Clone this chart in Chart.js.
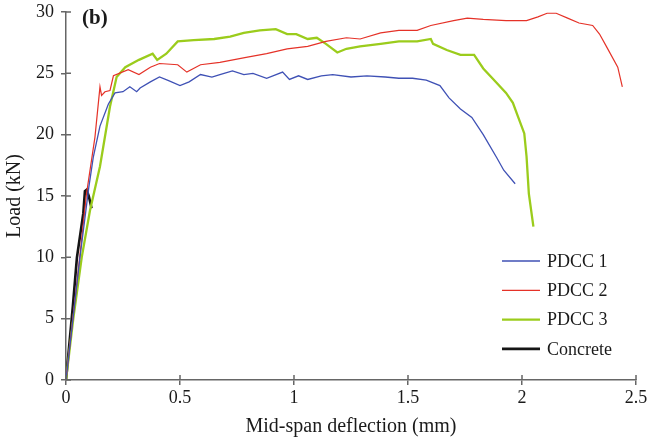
<!DOCTYPE html>
<html>
<head>
<meta charset="utf-8">
<script src="https://cdn.jsdelivr.net/npm/chart.js@4/dist/chart.umd.min.js"></script>
<style>
  html, body { margin: 0; padding: 0; background: #fff; }
  #wrap { width: 649px; height: 439px; }
</style>
</head>
<body>
<div id="wrap"><canvas id="loadChart"></canvas></div>
<script>
// deflection (mm) / load (kN)
const pdcc1X = [0, 0.06, 0.1, 0.12, 0.149, 0.186, 0.215, 0.25, 0.28, 0.31, 0.325, 0.37, 0.41, 0.45, 0.5, 0.54, 0.59, 0.64, 0.675, 0.73, 0.78, 0.82, 0.88, 0.95, 0.98, 1.02, 1.06, 1.12, 1.17, 1.25, 1.32, 1.4, 1.46, 1.52, 1.58, 1.64, 1.68, 1.73, 1.78, 1.83, 1.89, 1.92, 1.97]
const pdcc1Y = [0, 9.8, 15.7, 18.2, 20.7, 22.5, 23.4, 23.5, 23.9, 23.5, 23.8, 24.3, 24.7, 24.4, 24.0, 24.3, 24.9, 24.7, 24.9, 25.2, 24.9, 25.0, 24.6, 25.1, 24.5, 24.8, 24.5, 24.8, 24.9, 24.7, 24.8, 24.7, 24.6, 24.6, 24.45, 24.0, 23.0, 22.1, 21.4, 20.0, 18.1, 17.1, 16.0]

const pdcc2X = [0, 0.06, 0.09, 0.127, 0.149, 0.156, 0.171, 0.193, 0.208, 0.273, 0.32, 0.37, 0.41, 0.49, 0.53, 0.59, 0.675, 0.79, 0.88, 0.97, 1.06, 1.14, 1.23, 1.29, 1.38, 1.46, 1.54, 1.6, 1.7, 1.76, 1.83, 1.93, 2.02, 2.07, 2.11, 2.15, 2.2, 2.25, 2.31, 2.34, 2.37, 2.42, 2.44]
const pdcc2Y = [0, 10.0, 15.2, 19.8, 23.9, 23.2, 23.5, 23.6, 24.8, 25.3, 24.9, 25.5, 25.8, 25.7, 25.1, 25.7, 25.9, 26.3, 26.6, 27.0, 27.2, 27.6, 27.9, 27.8, 28.3, 28.5, 28.5, 28.9, 29.3, 29.5, 29.4, 29.3, 29.3, 29.6, 29.9, 29.9, 29.5, 29.1, 28.9, 28.2, 27.2, 25.5, 23.9]

const pdcc3X = [0, 0.032, 0.069, 0.105, 0.149, 0.193, 0.222, 0.26, 0.32, 0.38, 0.40, 0.44, 0.49, 0.56, 0.65, 0.72, 0.78, 0.85, 0.92, 0.97, 1.01, 1.06, 1.10, 1.14, 1.19, 1.23, 1.29, 1.38, 1.46, 1.54, 1.60, 1.61, 1.67, 1.73, 1.79, 1.83, 1.87, 1.93, 1.96, 1.98, 2.01, 2.02, 2.03, 2.05]
const pdcc3Y = [0, 5.0, 10.0, 13.8, 17.4, 22.3, 24.7, 25.5, 26.1, 26.6, 26.1, 26.6, 27.6, 27.7, 27.8, 28.0, 28.3, 28.5, 28.6, 28.2, 28.2, 27.8, 27.9, 27.4, 26.7, 27.0, 27.2, 27.4, 27.6, 27.6, 27.8, 27.4, 26.9, 26.5, 26.5, 25.4, 24.6, 23.4, 22.6, 21.6, 20.1, 18.2, 15.2, 12.5]

const concreteX = [0, 0.03, 0.048, 0.076, 0.083, 0.09, 0.1, 0.112]
const concreteY = [0, 6.0, 10.0, 13.6, 15.4, 15.5, 15.0, 14.0]

const seriesNames = ['PDCC 1', 'PDCC 2', 'PDCC 3', 'Concrete']
const xTicks = [0, 0.5, 1, 1.5, 2, 2.5]
const yTicks = [0, 5, 10, 15, 20, 25, 30]

const serif = '"Liberation Serif", "DejaVu Serif", serif'
const axisColour = '#666'
const textColour = '#1a1a1a'

function pairs(xs, ys) {
  const out = []
  for (let i = 0; i < xs.length; i++) {
    out.push({x: xs[i], y: ys[i]})
  }
  return out
}

// ticks cross the axis line, so add the inner half by hand
const innerTicks = {
  id: 'innerTicks',
  afterDraw(chart) {
    const ctx = chart.ctx
    const area = chart.chartArea
    const xs = chart.scales.x
    const ys = chart.scales.y
    ctx.save()
    ctx.strokeStyle = axisColour
    ctx.lineWidth = 1.5
    ctx.beginPath()
    xTicks.forEach(v => {
      const px = xs.getPixelForValue(v)
      ctx.moveTo(px, area.bottom)
      ctx.lineTo(px, area.bottom - 5)
    })
    yTicks.forEach(v => {
      const py = ys.getPixelForValue(v)
      ctx.moveTo(area.left, py)
      ctx.lineTo(area.left + 5, py)
    })
    ctx.stroke()
    ctx.restore()
  }
}

// legend sits inside the plot, bottom right
const insideLegend = {
  id: 'insideLegend',
  afterDraw(chart) {
    const ctx = chart.ctx
    const area = chart.chartArea
    ctx.save()
    ctx.font = '18px ' + serif
    ctx.textBaseline = 'middle'
    ctx.textAlign = 'left'
    chart.data.datasets.forEach((ds, i) => {
      const y = area.bottom - 119 + i * 29.3
      const x0 = area.left + 436
      ctx.strokeStyle = ds.borderColor
      ctx.lineWidth = ds.borderWidth
      ctx.beginPath()
      ctx.moveTo(x0, y)
      ctx.lineTo(x0 + 38, y)
      ctx.stroke()
      ctx.fillStyle = textColour
      ctx.fillText(ds.label, x0 + 45, y + 1)
    })
    ctx.font = 'bold 21px ' + serif
    ctx.fillText('(b)', area.left + 16, area.top + 7)
    ctx.restore()
  }
}

const chartDatasets = [
  {label: seriesNames[0], data: pairs(pdcc1X, pdcc1Y), borderColor: '#3f51b5', borderWidth: 1.3},
  {label: seriesNames[1], data: pairs(pdcc2X, pdcc2Y), borderColor: '#e53228', borderWidth: 1.2},
  {label: seriesNames[2], data: pairs(pdcc3X, pdcc3Y), borderColor: '#9bcc1c', borderWidth: 2.3},
  {label: seriesNames[3], data: pairs(concreteX, concreteY), borderColor: '#151515', borderWidth: 2.6}
]
chartDatasets.forEach(ds => {
  ds.pointRadius = 0
  ds.fill = false
  ds.tension = 0
})

const loadChart = new Chart(document.getElementById('loadChart').getContext('2d'), {
  type: 'line',
  data: {datasets: chartDatasets},
  options: {
    responsive: true,
    maintainAspectRatio: false,
    animation: false,
    layout: {padding: {top: 12, right: 13, left: 0, bottom: 0}},
    plugins: {legend: {display: false}, tooltip: {enabled: false}},
    scales: {
      x: {
        type: 'linear', min: 0, max: 2.5,
        afterFit: s => { s.height = 59; s.paddingLeft = 0; s.paddingRight = 0 },
        afterBuildTicks: s => { s.ticks = xTicks.map(v => ({value: v})) },
        border: {color: axisColour, width: 1.5},
        grid: {drawOnChartArea: false, color: axisColour, lineWidth: 1.5, tickLength: 5},
        ticks: {color: textColour, font: {family: serif, size: 18}, padding: 2, callback: v => String(v)},
        title: {display: true, text: 'Mid-span deflection (mm)', color: textColour, font: {family: serif, size: 20}, padding: {top: 0, bottom: 0}}
      },
      y: {
        min: 0, max: 30,
        afterFit: s => { s.width = 66; s.paddingTop = 0; s.paddingBottom = 0 },
        afterBuildTicks: s => { s.ticks = yTicks.map(v => ({value: v})) },
        border: {color: axisColour, width: 1.5},
        grid: {drawOnChartArea: false, color: axisColour, lineWidth: 1.5, tickLength: 5},
        ticks: {color: textColour, font: {family: serif, size: 18}, padding: 7},
        title: {display: true, text: 'Load (kN)', color: textColour, font: {family: serif, size: 20}, padding: {top: 3, bottom: 0}}
      }
    }
  },
  plugins: [innerTicks, insideLegend]
});
</script>
</body>
</html>
